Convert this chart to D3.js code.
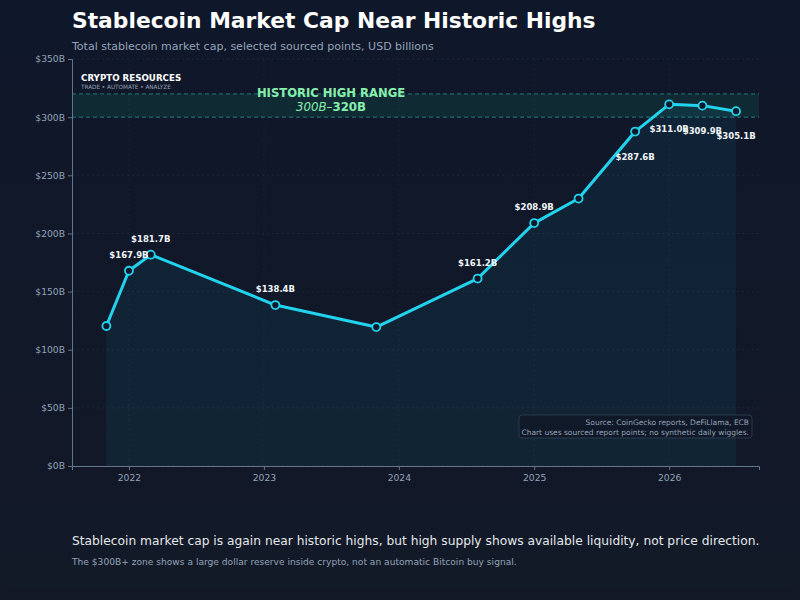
<!DOCTYPE html>
<html>
<head>
<meta charset="utf-8">
<script src="https://cdn.jsdelivr.net/npm/d3@7"></script>
<style>
    body { margin: 0; background: #0f172a; }
    svg { display: block; font-family: "DejaVu Sans", sans-serif; }
</style>
</head>
<body>
<svg id="chart" width="800" height="600"></svg>
<script>
// sourced report points (USD billions)
const pointDates = ['2021-11-01', '2022-01-01', '2022-03-01', '2023-02-01', '2023-11-01', '2024-08-01',
                    '2025-01-01', '2025-05-01', '2025-10-01', '2026-01-01', '2026-04-01', '2026-07-01'];
const capBillions = [120.4, 167.9, 181.7, 138.4, 119.5, 161.2, 208.9, 230.0, 287.6, 311.0, 309.9, 305.1];
const labelled = [false, true, true, true, false, true, true, false, true, true, true, true];
const labelBelow = [false, false, false, false, false, false, false, false, true, true, true, true];
const yearTicks = ['2022', '2023', '2024', '2025', '2026'];
const capTicks = [0, 50, 100, 150, 200, 250, 300, 350];
const highBand = [300, 320];

const parse = d3.timeParse('%Y-%m-%d');
const data = pointDates.map((d, i) => ({ date: parse(d), cap: capBillions[i], lab: labelled[i], below: labelBelow[i] }));

var margin = { top: 59, right: 41, bottom: 134, left: 72 },
    width = 800 - margin.left - margin.right,
    height = 600 - margin.top - margin.bottom;

var x = d3.scaleTime()
    .domain([parse('2021-07-31'), parse('2026-09-01')])
    .range([0, width]);

var y = d3.scaleLinear()
    .domain([0, 350])
    .range([height, 0]);

const svg = d3.select('#chart');

// background
const defs = svg.append('defs');
const bg = defs.append('linearGradient').attr('id', 'bg').attr('x1', 0).attr('y1', 0).attr('x2', 0).attr('y2', 1);
bg.append('stop').attr('offset', '0%').attr('stop-color', '#0f172a');
bg.append('stop').attr('offset', '100%').attr('stop-color', '#121826');
svg.append('rect').attr('width', 800).attr('height', 600).attr('fill', 'url(#bg)');

// bottom takeaway panel
svg.append('rect')
    .attr('x', 8).attr('y', 503).attr('width', 782).attr('height', 86)
    .attr('fill', '#141b2b').attr('opacity', 0.45);

// titles
svg.append('text')
    .attr('x', 72).attr('y', 28)
    .attr('font-size', 21.8).attr('font-weight', 'bold').attr('fill', '#ffffff')
    .text('Stablecoin Market Cap Near Historic Highs');

svg.append('text')
    .attr('x', 72).attr('y', 50)
    .attr('font-size', 11).attr('fill', '#94a3b8')
    .text('Total stablecoin market cap, selected sourced points, USD billions');

const plot = svg.append('g')
    .attr('transform', 'translate(' + margin.left + ',' + margin.top + ')');

///////////////////////////////
// grid
///////////////////////////////
plot.append('g')
    .selectAll('line')
    .data(capTicks)
    .enter()
    .append('line')
        .attr('x1', 0).attr('x2', width)
        .attr('y1', d => y(d)).attr('y2', d => y(d))
        .attr('stroke', '#1e293b').attr('stroke-width', 0.8)
        .attr('stroke-dasharray', '2,3');

plot.append('g')
    .selectAll('line')
    .data(yearTicks)
    .enter()
    .append('line')
        .attr('x1', d => x(parse(d + '-01-01'))).attr('x2', d => x(parse(d + '-01-01')))
        .attr('y1', 0).attr('y2', height)
        .attr('stroke', '#1a2435').attr('stroke-width', 0.8)
        .attr('stroke-dasharray', '2,3');

///////////////////////////////
// historic high band
///////////////////////////////
plot.append('rect')
    .attr('x', 0).attr('width', width)
    .attr('y', y(highBand[1])).attr('height', y(highBand[0]) - y(highBand[1]))
    .attr('fill', '#10b981').attr('opacity', 0.12);

plot.append('g')
    .selectAll('line')
    .data(highBand)
    .enter()
    .append('line')
        .attr('x1', 0).attr('x2', width)
        .attr('y1', d => y(d)).attr('y2', d => y(d))
        .attr('stroke', '#2dd4bf').attr('stroke-opacity', 0.5)
        .attr('stroke-width', 1).attr('stroke-dasharray', '4,3');

// area under the line
plot.append('path')
    .datum(data)
    .attr('fill', '#22d3ee').attr('fill-opacity', 0.065)
    .attr('d', d3.area().x(d => x(d.date)).y0(y(0)).y1(d => y(d.cap)));

plot.append('text')
    .attr('x', 259).attr('y', 38).attr('text-anchor', 'middle')
    .attr('fill', '#86efac')
    .attr('font-size', 11.6).attr('font-weight', 'bold')
    .text('HISTORIC HIGH RANGE');

const rangeLine = plot.append('text')
    .attr('x', 259).attr('y', 52).attr('text-anchor', 'middle')
    .attr('fill', '#86efac').attr('font-size', 11.8);
rangeLine.append('tspan').attr('font-style', 'italic').text(highBand[0] + 'B–');
rangeLine.append('tspan').attr('font-weight', 'bold').text(highBand[1] + 'B');

// brand
plot.append('text')
    .attr('x', 9).attr('y', 22)
    .attr('font-size', 8.7).attr('font-weight', 'bold').attr('fill', '#ffffff')
    .text('CRYPTO RESOURCES');
plot.append('text')
    .attr('x', 9).attr('y', 30)
    .attr('font-size', 5.7).attr('fill', '#94a3b8')
    .text('TRADE • AUTOMATE • ANALYZE');

///////////////////////////////
// axes
///////////////////////////////
const yAxis = plot.append('g')
    .call(d3.axisLeft(y).tickValues(capTicks).tickSize(4).tickPadding(3).tickFormat(d => '$' + d + 'B'));
const xAxis = plot.append('g')
    .attr('transform', 'translate(0,' + height + ')')
    .call(d3.axisBottom(x).tickValues(yearTicks.map(d => parse(d + '-01-01'))).tickSize(4).tickPadding(4).tickFormat(d3.timeFormat('%Y')));

[yAxis, xAxis].forEach(a => {
    a.select('.domain').attr('stroke', '#64748b');
    a.selectAll('.tick line').attr('stroke', '#64748b');
    a.selectAll('.tick text').attr('fill', '#94a3b8').attr('font-size', 9.2).attr('font-family', '"DejaVu Sans", sans-serif');
});

///////////////////////////////
// line + points
///////////////////////////////
plot.append('path')
    .datum(data)
    .attr('fill', 'none')
    .attr('stroke', '#22d3ee').attr('stroke-width', 3)
    .attr('stroke-linejoin', 'round')
    .attr('d', d3.line().x(d => x(d.date)).y(d => y(d.cap)));

plot.append('g')
    .selectAll('circle')
    .data(data)
    .enter()
    .append('circle')
        .attr('cx', d => x(d.date))
        .attr('cy', d => y(d.cap))
        .attr('r', 4)
        .attr('fill', '#0f172a')
        .attr('stroke', '#22d3ee')
        .attr('stroke-width', 1.8);

plot.append('g')
    .selectAll('text')
    .data(data.filter(d => d.lab))
    .enter()
    .append('text')
        .attr('x', d => x(d.date))
        .attr('y', d => y(d.cap) + (d.below ? 28 : -13))
        .attr('text-anchor', 'middle')
        .attr('font-size', 8.5).attr('font-weight', 'bold')
        .attr('fill', '#f1f5f9')
        .text(d => '$' + d.cap.toFixed(1) + 'B');

// source note
const note = plot.append('g');
note.append('rect')
    .attr('x', 447).attr('y', 356).attr('width', 233).attr('height', 23).attr('rx', 3)
    .attr('fill', '#111827').attr('fill-opacity', 0.85)
    .attr('stroke', '#334155').attr('stroke-width', 0.8);
note.append('text')
    .attr('x', 677).attr('y', 366).attr('text-anchor', 'end')
    .attr('font-size', 7.5).attr('fill', '#94a3b8')
    .text('Source: CoinGecko reports, DeFiLlama, ECB');
note.append('text')
    .attr('x', 677).attr('y', 376).attr('text-anchor', 'end')
    .attr('font-size', 7.5).attr('fill', '#94a3b8')
    .text('Chart uses sourced report points; no synthetic daily wiggles.');

// takeaway
svg.append('text')
    .attr('x', 72).attr('y', 545)
    .attr('font-size', 12.25).attr('fill', '#e5e7eb')
    .text('Stablecoin market cap is again near historic highs, but high supply shows available liquidity, not price direction.');
svg.append('text')
    .attr('x', 72).attr('y', 565)
    .attr('font-size', 9.1).attr('fill', '#94a3b8')
    .text('The $300B+ zone shows a large dollar reserve inside crypto, not an automatic Bitcoin buy signal.');
</script>
</body>
</html>
